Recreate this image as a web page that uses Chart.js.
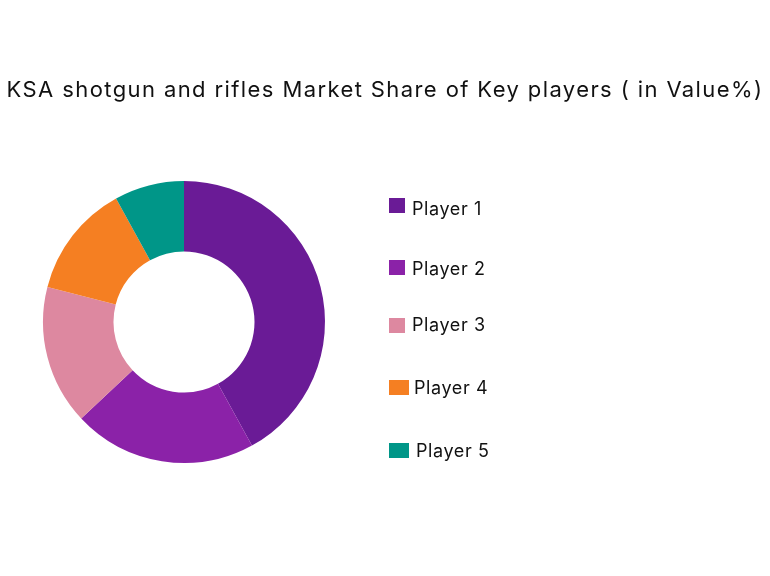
<!DOCTYPE html>
<html>
<head>
<meta charset="utf-8">
<script src="https://cdn.jsdelivr.net/npm/chart.js@4.4.0/dist/chart.umd.min.js"></script>
<style>
  html, body { margin: 0; padding: 0; background: #ffffff; }
  #wrap { width: 770px; height: 576px; }
</style>
</head>
<body>
<div id="wrap"><canvas id="shareChart" width="770" height="576"></canvas></div>
<script>
  // market share values (in value %)
  const players = ['Player 1', 'Player 2', 'Player 3', 'Player 4', 'Player 5'];
  const shares = [42, 21, 16, 13, 8];
  const colors = ['#6a1b96', '#8b22a8', '#dd88a0', '#f57f22', '#009688'];
  const chartTitle = 'KSA shotgun and rifles Market Share of Key players ( in Value%)';

  // legend rows are not evenly spaced in the original
  const legendRows = [
    { boxY: 198, boxW: 16, textX: 412, baseY: 215 },
    { boxY: 260, boxW: 16, textX: 412, baseY: 275 },
    { boxY: 318, boxW: 16, textX: 412, baseY: 331 },
    { boxY: 380, boxW: 20, textX: 414, baseY: 394 },
    { boxY: 443, boxW: 20, textX: 416, baseY: 457 }
  ];

  const fontFamily = 'Inter, "Noto Sans", sans-serif';

  // draws the title and the side legend
  const textPlugin = {
    id: 'textPlugin',
    afterDraw(chart) {
      const c = chart.ctx;
      c.save();
      c.fillStyle = '#111111';
      c.textAlign = 'center';
      c.textBaseline = 'alphabetic';
      c.font = '22px ' + fontFamily;
      c.letterSpacing = '1.4px';
      c.fillText(chartTitle, 385, 97);

      const ds = chart.data.datasets[0];
      c.textAlign = 'left';
      c.font = '18px ' + fontFamily;
      c.letterSpacing = '0.6px';
      chart.data.labels.forEach((label, i) => {
        const row = legendRows[i];
        c.fillStyle = ds.backgroundColor[i];
        c.fillRect(389, row.boxY, row.boxW, 15);
        c.fillStyle = '#111111';
        c.fillText(label, row.textX, row.baseY);
      });
      c.restore();
    }
  };

  var ctx = document.getElementById('shareChart').getContext('2d');
  new Chart(ctx, {
    type: 'doughnut',
    data: {
      labels: players,
      datasets: [{
        data: shares,
        backgroundColor: colors,
        borderWidth: 0,
        hoverOffset: 0
      }]
    },
    options: {
      responsive: false,
      animation: false,
      cutout: '50%',
      layout: {
        padding: { left: 43, right: 445, top: 181, bottom: 113 }
      },
      plugins: {
        legend: { display: false },
        title: { display: false },
        tooltip: { enabled: false }
      }
    },
    plugins: [textPlugin]
  });
</script>
</body>
</html>
